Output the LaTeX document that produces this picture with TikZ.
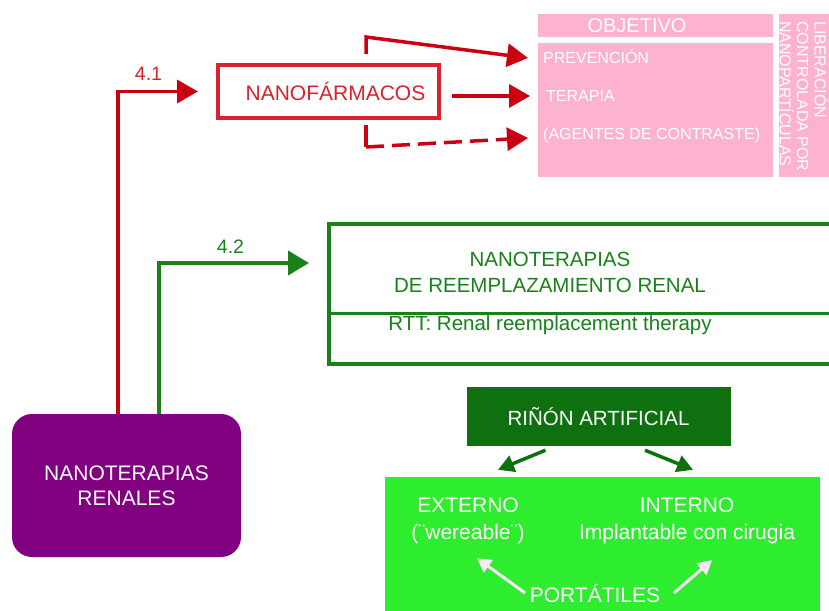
\documentclass[tikz,border=0pt]{standalone}
\usepackage{fontspec}
\setmainfont{Liberation Sans}
\usetikzlibrary{arrows.meta}
\definecolor{farmred}{RGB}{216,34,46}
\definecolor{arrowred}{RGB}{202,0,18}
\definecolor{rttgreen}{RGB}{26,128,26}
\definecolor{rinongreen}{RGB}{14,112,14}
\definecolor{portgreen}{RGB}{46,236,46}
\definecolor{renalpurple}{RGB}{128,0,128}
\definecolor{objpink}{RGB}{252,178,208}
\definecolor{portwhite}{RGB}{250,232,250}
\begin{document}
\begin{tikzpicture}[x=1pt,y=-1pt,
		txt/.style={inner sep=0pt,align=center},
		pinktxt/.style={inner sep=0pt,anchor=west,text=white,text height=11.5pt,text depth=0pt,font=\fontsize{16}{17.5}\selectfont},
		pinkbox/.style={fill=objpink,inner sep=0pt},
		redarrow/.style={draw=arrowred,line width=3.5pt,-{Triangle[length=21pt,width=23pt]}},
		greenarrow/.style={draw=rttgreen,line width=4pt,-{Triangle[length=21pt,width=24pt]}},
		rinonarrow/.style={draw=rinongreen,line width=3.5pt,-{Triangle[length=16pt,width=17pt]}},
		whitearrow/.style={draw=portwhite,line width=3pt,-{Triangle[length=14pt,width=15pt]}}]
				\useasboundingbox (0,0) rectangle (829,610);
				\node[pinkbox,minimum width=235,minimum height=23,text=white,font=\fontsize{20}{24}\selectfont] (objhead) at (655.5,25.5) {OBJETIVO\hspace*{37pt}};
				\node[pinkbox,minimum width=235,minimum height=134] (objbody) at (655.5,110) {};
				\node[pinkbox,minimum width=61,minimum height=163] (liber) at (809.5,95.5) {};
				\node[pinktxt,anchor=south west,rotate=-90,align=left] (libertxt) at (779.5,21) {LIBERACIÓN\\CONTROLADA POR\\NANOPARTÍCULAS};
				\node[pinktxt] (prev) at (543,58) {PREVENCIÓN};
				\node[pinktxt] (ter) at (546,96) {TERAPIA};
				\node[pinktxt] (agen) at (543,134) {(AGENTES DE CONTRASTE)};
				\node[draw=farmred,line width=4pt,minimum width=221,minimum height=53,text=farmred,font=\fontsize{21}{25}\selectfont] (farm) at (328.5,91.5) {\hspace*{14pt}NANOFÁRMACOS};
				\node[draw=rttgreen,line width=4pt,minimum width=520,minimum height=140] (rrtbox) at (589,294) {};
				\draw[rttgreen,line width=3pt] ([shift={(0,19)}]rrtbox.west) -- ([shift={(0,19)}]rrtbox.east);
				\node[txt,text=rttgreen,font=\fontsize{20.5}{26}\selectfont] (rrtname) at (550,272.7) {NANOTERAPIAS\\DE REEMPLAZAMIENTO RENAL};
				\node[txt,anchor=base,text=rttgreen,font=\fontsize{20.5}{26}\selectfont] (rtt) at (550,330) {RTT: Renal reemplacement therapy};
				\node[fill=rinongreen,minimum width=264,minimum height=59,text=white,font=\fontsize{20.5}{25}\selectfont] (rinon) at (598.5,416.5) {RIÑÓN ARTIFICIAL};
				\node[fill=portgreen,minimum width=435,minimum height=150] (portbox) at (602.5,552) {};
				\node[txt,text=white,font=\fontsize{21}{27}\selectfont] (ext) at (468,521) {EXTERNO\\(¨wereable¨)};
				\node[txt,text=white,font=\fontsize{21}{27}\selectfont] (int) at (687,521) {INTERNO\\Implantable con cirugia};
				\node[txt,anchor=base,text=white,font=\fontsize{21}{25}\selectfont] (port) at (595,602) {PORTÁTILES};
				\node[fill=renalpurple,rounded corners=20pt,minimum width=229,minimum height=143,align=center,text=white,font=\fontsize{21}{25}\selectfont] (renal) at (126.5,485.5) {NANOTERAPIAS\\RENALES};
				\draw[redarrow,shorten >=18pt] ([xshift=-8.5pt]renal.north) |- (farm.west);
				\node[txt,anchor=base,text=farmred,font=\fontsize{19.5}{22}\selectfont] (l41) at (148.5,80) {4.1};
				\draw[greenarrow,shorten >=18pt] ([xshift=32.5pt]renal.north) |- ([shift={(0,-31)}]rrtbox.west);
				\node[txt,anchor=base,text=rttgreen,font=\fontsize{19.5}{22}\selectfont] (l42) at (230.5,253) {4.2};
				\draw[redarrow] ([shift={(37.5,-9)}]farm.north) -- ++(0,-17) -- ([xshift=-15pt]prev.west);
				\draw[redarrow] ([xshift=11pt]farm.east |- ter.west) -- ([xshift=-16pt]ter.west);
				\coordinate (fcorner) at ([shift={(37.5,27)}]farm.south);
				\draw[arrowred,line width=3.5pt] ([shift={(37.5,5)}]farm.south) -- (fcorner);
				\draw[redarrow,dash pattern=on 18pt off 8pt] (fcorner) -- ([shift={(-15,4)}]agen.west);
				\draw[rinonarrow] ([shift={(-53,4)}]rinon.south) -- ([shift={(30,-28)}]ext.north);
				\draw[rinonarrow] ([shift={(46.5,4)}]rinon.south) -- ([shift={(6,-28)}]int.north);
				\draw[whitearrow] ([xshift=-4.5pt]port.west) -- ([shift={(9,14)}]ext.south);
				\draw[whitearrow] ([xshift=13.5pt]port.east) -- ([shift={(25,16)}]int.south);
			\end{tikzpicture}
\end{document}
